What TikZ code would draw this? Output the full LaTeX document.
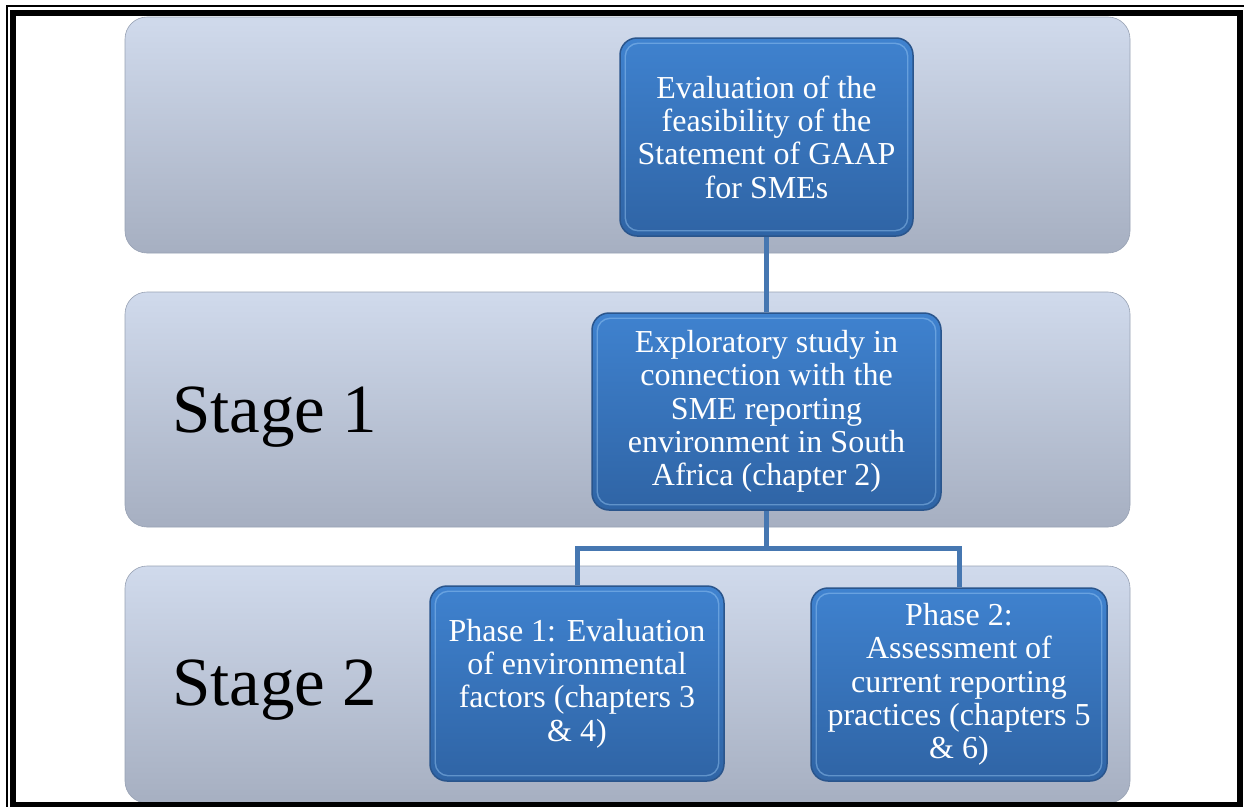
\documentclass[tikz,border=0pt]{standalone}
\usepackage{fontspec}
\setmainfont{Liberation Serif}
\definecolor{bandtop}{HTML}{D0DAEC}
\definecolor{bandbot}{HTML}{A6AFC1}
\definecolor{bandedge}{HTML}{98A2B4}
\definecolor{boxtop}{HTML}{3F82CF}
\definecolor{boxbot}{HTML}{2F64A5}
\definecolor{boxedge}{HTML}{2A558C}
\definecolor{boxshine}{HTML}{9CCBF7}
\definecolor{linkblue}{HTML}{4677B1}
\begin{document}
\begin{tikzpicture}[x=1pt,y=-1pt,
  band/.style={rounded corners=22pt, top color=bandtop, bottom color=bandbot,
    draw=bandedge, line width=0.6pt},
  stepbox/.style={rounded corners=17pt, top color=boxtop, bottom color=boxbot,
    draw=boxedge, line width=1.5pt, text=white, align=center,
    font=\fontsize{32}{33.3}\selectfont, inner sep=0pt},
  shine/.style={rounded corners=13pt, draw=boxshine, line width=1.4pt, opacity=0.45},
  stagelabel/.style={font=\fontsize{69}{80}\selectfont, anchor=base west, inner sep=0pt},
  link/.style={draw=linkblue, line width=5pt}]
\useasboundingbox (0,0) rectangle (1244,806);
\clip (0,0) rectangle (1244,806);
\fill[white] (0,0) rectangle (1244,806);

% stage bands
\path[band] (125,17) rectangle (1130,253);
\path[band] (125,292) rectangle (1130,527);
\path[band] (125,566) rectangle (1130,803);

% stage labels
\node[stagelabel] (s1) at (172,432) {Stage 1};
\node[stagelabel] (s2) at (172,705) {Stage 2};

% steps
\node[stepbox, minimum width=293pt, minimum height=198pt] (top) at (766.5,137)
  {Evaluation of the\\feasibility of the\\Statement of GAAP\\for SMEs};
\node[stepbox, minimum width=349pt, minimum height=197pt] (mid) at (766.5,411.5)
  {Exploratory study in\\connection with the\\SME reporting\\environment in South\\Africa (chapter 2)};
\node[stepbox, minimum width=294pt, minimum height=195pt] (left) at (577,683.5)
  {Phase 1: Evaluation\\of environmental\\factors (chapters 3\\\& 4)};
\node[stepbox, minimum width=296pt, minimum height=193pt] (right) at (959,684.5)
  {Phase 2:\\Assessment of\\current reporting\\practices (chapters 5\\\& 6)};

% bevel highlights
\foreach \b in {top,mid,left,right}
  \draw[shine] ([shift={(6,6)}]\b.north west) rectangle ([shift={(-6,-6)}]\b.south east);

% connectors
\coordinate (fork) at ([yshift=-38pt]mid.south);
\draw[link] (top.south) -- (mid.north);
\draw[link] (mid.south) -- (fork) -| (left.north);
\draw[link] (fork) -| (right.north);

% page frame
\draw[line width=2pt] (7,6) rectangle (1262,822);
\draw[line width=6pt] (13,13) rectangle (1240,805);
\end{tikzpicture}
\end{document}
